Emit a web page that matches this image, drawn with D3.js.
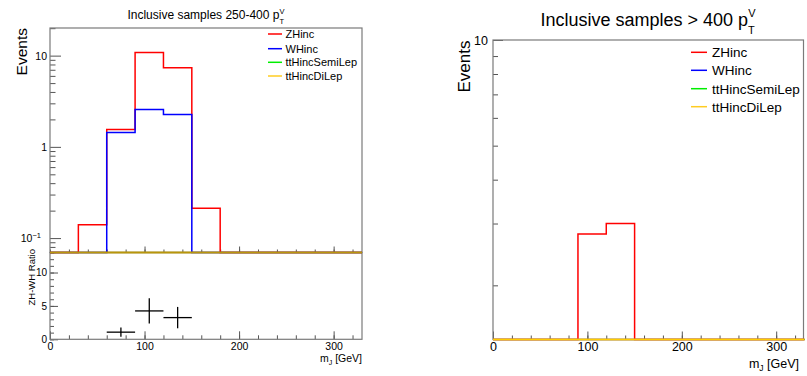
<!DOCTYPE html>
<html><head><meta charset="utf-8">
<script src="https://cdn.jsdelivr.net/npm/d3@7"></script>
<style>
body{margin:0;background:#fff;}
svg{display:block;font-family:"Liberation Sans",Arial,sans-serif;}
</style></head>
<body><svg id="c" width="807" height="376"></svg>
<script>
// ---------------- data ----------------
const binEdges = [0,30,60,90,120,150,180,210,240,270,300,330];
// left panel: 250-400 pT^V
const zhLow  = [0, 0.14, 1.55, 10.8, 7.35, 0.213, 0, 0, 0, 0, 0];
const whLow  = [0, 0, 1.44, 2.56, 2.26, 0, 0, 0, 0, 0, 0];
const ttSemiLow = [0,0,0,0,0,0,0,0,0,0,0];
const ttDiLow   = [0,0,0,0,0,0,0,0,0,0,0];
// ratio ZH/WH
const ratioCenters = [75, 105, 135];
const ratioValues  = [1.07, 4.25, 3.25];
const ratioErrors  = [0.68, 1.9, 1.6];
// right panel: > 400 pT^V
const zhHigh = [0, 0, 0, 2.8, 3.0, 0, 0, 0, 0, 0, 0];
const whHigh = [0,0,0,0,0,0,0,0,0,0,0];
const ttSemiHigh = [0,0,0,0,0,0,0,0,0,0,0];
const ttDiHigh   = [0,0,0,0,0,0,0,0,0,0,0];
const legendNames = ["ZHinc","WHinc","ttHincSemiLep","ttHincDiLep"];
const legendColors = ["#ff0000","#0000ff","#00ee00","#ffcc22"];

const svg = d3.select("#c");
svg.append("rect").attr("width",807).attr("height",376).attr("fill","#fff");
const FRAME = "#7a7a7a", TICK = "#555";

function stepPath(x, y, vals, ymin){
  const p = d3.path();
  const yb = y(ymin);
  p.moveTo(x(binEdges[0]), yb);
  vals.forEach((v,i)=>{
    const yy = v > ymin ? y(v) : yb;
    p.lineTo(x(binEdges[i]), yy);
    p.lineTo(x(binEdges[i+1]), yy);
  });
  p.lineTo(x(binEdges[binEdges.length-1]), yb);
  return p.toString();
}
function styleAxis(g){
  g.select(".domain").remove();
  g.selectAll(".tick line").attr("stroke",TICK);
  g.selectAll(".tick text").attr("fill","#000");
}
function logMinors(lo, hi){
  const out=[];
  for(let e=Math.floor(Math.log10(lo)); e<=Math.ceil(Math.log10(hi)); e++){
    for(let m=2;m<=9;m++){const v=m*Math.pow(10,e); if(v>=lo&&v<=hi) out.push(v);}
  }
  return out;
}
function range(a,b,s){const o=[];for(let v=a;v<=b+1e-9;v+=s)o.push(+v.toFixed(6));return o;}
function frame(x0,y0,x1,y1){
  svg.append("rect").attr("x",x0).attr("y",y0).attr("width",x1-x0).attr("height",y1-y0)
    .attr("fill","none").attr("stroke",FRAME).attr("stroke-width",1.2);
}

// ================= LEFT PANEL =================
const L = {x0:50, x1:362, top:28, mid:252.5, bot:339.3};
const xL = d3.scaleLinear().domain([0,330]).range([L.x0,L.x1]);
const yLmin = Math.pow(10,-1.158), yLmax = Math.pow(10,1.303);
const yL = d3.scaleLog().domain([yLmin,yLmax]).range([L.mid,L.top]);
const yR = d3.scaleLinear().domain([0,13]).range([L.bot,L.mid]);

// upper pad axes
let g = svg.append("g").attr("transform",`translate(${L.x0},0)`)
  .call(d3.axisLeft(yL).tickValues(logMinors(yLmin,yLmax)).tickSize(-5.5).tickFormat(""));
styleAxis(g);
g = svg.append("g").attr("transform",`translate(${L.x0},0)`)
  .call(d3.axisLeft(yL).tickValues([0.1,1,10]).tickSize(-11).tickPadding(3).tickFormat(d=> d===0.1?"10":String(d)));
styleAxis(g);
g.selectAll(".tick text").attr("font-size",10.5).each(function(d){
  if(d===0.1){ d3.select(this).attr("dx",-6).append("tspan").attr("font-size",7.5).attr("dy",-4).text("−1"); }
});
g = svg.append("g").attr("transform",`translate(0,${L.mid})`)
  .call(d3.axisBottom(xL).tickValues(range(0,320,20)).tickSize(-3).tickFormat(""));
styleAxis(g);
g = svg.append("g").attr("transform",`translate(0,${L.mid})`)
  .call(d3.axisBottom(xL).tickValues([100,200,300]).tickSize(-6).tickFormat(""));
styleAxis(g);

// ratio pad axes
g = svg.append("g").attr("transform",`translate(${L.x0},0)`)
  .call(d3.axisLeft(yR).tickValues(range(0,13,1)).tickSize(-4).tickFormat(""));
styleAxis(g);
g = svg.append("g").attr("transform",`translate(${L.x0},0)`)
  .call(d3.axisLeft(yR).tickValues([0,5,10]).tickSize(-8).tickPadding(3));
styleAxis(g); g.selectAll(".tick text").attr("font-size",10);
g = svg.append("g").attr("transform",`translate(0,${L.bot})`)
  .call(d3.axisBottom(xL).tickValues(range(0,320,20)).tickSize(-4).tickFormat(""));
styleAxis(g);
g = svg.append("g").attr("transform",`translate(0,${L.bot})`)
  .call(d3.axisBottom(xL).tickValues([0,100,200,300]).tickSize(-8).tickPadding(4));
styleAxis(g); g.selectAll(".tick text").attr("font-size",10.5).attr("dy","0.6em");

frame(L.x0,L.top,L.x1,L.mid);
frame(L.x0,L.mid,L.x1,L.bot);

// histograms
const upL = svg.append("g");
svg.append("clipPath").attr("id","clipL").append("rect")
  .attr("x",L.x0-2).attr("y",L.top).attr("width",L.x1-L.x0+4).attr("height",L.mid-L.top+1.5);
upL.attr("clip-path","url(#clipL)");
[[zhLow,"#ff0000",1.5],[whLow,"#0000ff",1.5],[ttSemiLow,"#00ee00",1],[ttDiLow,"#b8960b",2]].forEach(([v,c,w])=>{
  upL.append("path").attr("d",stepPath(xL,yL,v,yLmin)).attr("fill","none")
    .attr("stroke",c).attr("stroke-width",w);
});

// ratio points
ratioCenters.forEach((cx,i)=>{
  const v=ratioValues[i], e=ratioErrors[i];
  svg.append("line").attr("x1",xL(cx-15)).attr("x2",xL(cx+15)).attr("y1",yR(v)).attr("y2",yR(v))
    .attr("stroke","#000").attr("stroke-width",1.3);
  svg.append("line").attr("x1",xL(cx)).attr("x2",xL(cx)).attr("y1",yR(v-e)).attr("y2",yR(v+e))
    .attr("stroke","#000").attr("stroke-width",1.3);
});

// left texts
let t = svg.append("text").attr("x",206).attr("y",19).attr("text-anchor","middle").attr("font-size",12)
  .text("Inclusive samples 250-400 p");
t.append("tspan").attr("font-size",7.5).attr("dy",5).text("T");
t.append("tspan").attr("font-size",7.5).attr("dx",-4.5).attr("dy",-10).text("V");
svg.append("text").attr("transform","translate(27,28) rotate(-90)").attr("text-anchor","end")
  .attr("font-size",15.5).text("Events");
svg.append("text").attr("transform","translate(34.5,249) rotate(-90)").attr("text-anchor","end")
  .attr("font-size",9.5).text("ZH-WH Ratio");
t = svg.append("text").attr("x",L.x1).attr("y",362).attr("text-anchor","end").attr("font-size",10.5);
t.append("tspan").text("m");
t.append("tspan").attr("font-size",7).attr("dy",2.5).text("J");
t.append("tspan").attr("dy",-2.5).text(" [GeV]");

// left legend
const legL = [34,48.7,62.3,76];
legendNames.forEach((n,i)=>{
  svg.append("line").attr("x1",268).attr("x2",282).attr("y1",legL[i]).attr("y2",legL[i])
    .attr("stroke",legendColors[i]).attr("stroke-width",1.5);
  svg.append("text").attr("x",285.5).attr("y",legL[i]).attr("dy","0.36em").attr("font-size",11).text(n);
});

// ================= RIGHT PANEL =================
const R = {x0:493, x1:803.5, top:40, bot:339.5};
const xH = d3.scaleLinear().domain([0,330]).range([R.x0, R.x0 + 330*0.9440]);
const yHmin = Math.pow(10, 1-(R.bot-R.top)/351), yHmax = 10;
const yH = d3.scaleLog().domain([yHmin,yHmax]).range([R.bot,R.top]);

g = svg.append("g").attr("transform",`translate(${R.x0},0)`)
  .call(d3.axisLeft(yH).tickValues(logMinors(yHmin,9.5)).tickSize(-5).tickFormat(""));
styleAxis(g);
g = svg.append("g").attr("transform",`translate(${R.x0},0)`)
  .call(d3.axisLeft(yH).tickValues([10]).tickSize(-10).tickPadding(5));
styleAxis(g); g.selectAll(".tick text").attr("font-size",12.5);
g = svg.append("g").attr("transform",`translate(0,${R.bot})`)
  .call(d3.axisBottom(xH).tickValues(range(0,320,20)).tickSize(-4).tickFormat(""));
styleAxis(g);
g = svg.append("g").attr("transform",`translate(0,${R.bot})`)
  .call(d3.axisBottom(xH).tickValues([0,100,200,300]).tickSize(-8).tickPadding(4));
styleAxis(g); g.selectAll(".tick text").attr("font-size",12.5).attr("dy","0.62em");

frame(R.x0,R.top,R.x1,R.bot);

const upR = svg.append("g");
svg.append("clipPath").attr("id","clipR").append("rect")
  .attr("x",R.x0-2).attr("y",R.top).attr("width",R.x1-R.x0+4).attr("height",R.bot-R.top+1.5);
upR.attr("clip-path","url(#clipR)");
[[zhHigh,"#ff0000",1.5],[whHigh,"#0000ff",1.5],[ttSemiHigh,"#00ee00",1],[ttDiHigh,"#ffcc00",2]].forEach(([v,c,w])=>{
  upR.append("path").attr("d",stepPath(xH,yH,v,yHmin)).attr("fill","none")
    .attr("stroke",c).attr("stroke-width",w);
});

t = svg.append("text").attr("x",648).attr("y",26).attr("text-anchor","middle").attr("font-size",18)
  .text("Inclusive samples > 400 p");
t.append("tspan").attr("font-size",11).attr("dy",8).text("T");
t.append("tspan").attr("font-size",11).attr("dx",-6.5).attr("dy",-17).text("V");
svg.append("text").attr("transform","translate(470,40.5) rotate(-90)").attr("text-anchor","end")
  .attr("font-size",17).text("Events");
t = svg.append("text").attr("x",799).attr("y",368).attr("text-anchor","end").attr("font-size",12.5);
t.append("tspan").text("m");
t.append("tspan").attr("font-size",8.5).attr("dy",3).text("J");
t.append("tspan").attr("dy",-3).text(" [GeV]");

const legR = [52.3,70.3,88.7,106.7];
legendNames.forEach((n,i)=>{
  svg.append("line").attr("x1",691).attr("x2",707).attr("y1",legR[i]).attr("y2",legR[i])
    .attr("stroke",legendColors[i]).attr("stroke-width",1.5);
  svg.append("text").attr("x",712).attr("y",legR[i]).attr("dy","0.36em").attr("font-size",13.5).text(n);
});
</script></body></html>
